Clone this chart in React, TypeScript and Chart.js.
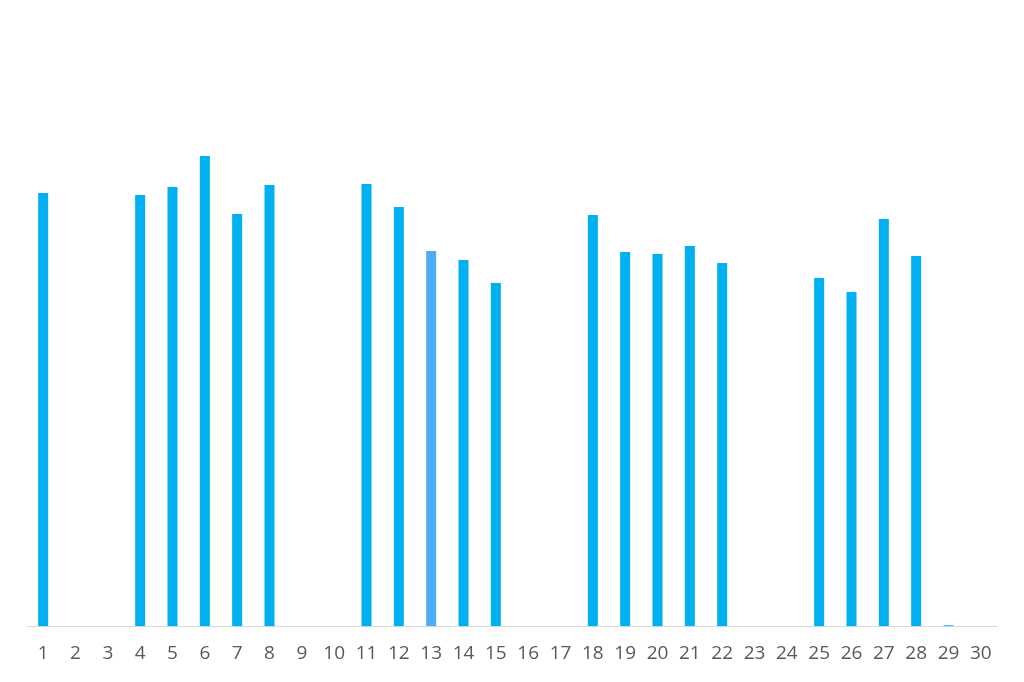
import React, { useEffect, useRef } from "react";
import { Chart, registerables } from "chart.js";

Chart.register(...registerables);

const categories: string[] = Array.from({ length: 30 }, (_, i) => String(i + 1));
const values: number[] = [
  433, 0, 0, 431, 439, 470, 412, 441, 0, 0,
  442, 419, 375, 366, 343, 0, 0, 411, 374, 372,
  380, 363, 0, 0, 348, 334, 407, 370, 1, 0,
];
const mainColor = "#00B0F0";
const highlightColor = "#4FADF7";
const highlightIndex = 12;

export default function App() {
  const ref = useRef<HTMLCanvasElement>(null);
  useEffect(() => {
    if (!ref.current) return;
    const colors = values.map((_, i) => (i === highlightIndex ? highlightColor : mainColor));
    const chart = new Chart(ref.current, {
      type: "bar",
      data: {
        labels: categories,
        datasets: [
          {
            data: values,
            backgroundColor: colors,
            barPercentage: 0.62,
            categoryPercentage: 0.5,
          },
        ],
      },
      options: {
        responsive: false,
        animation: false,
        layout: { padding: { left: 27, right: 27, top: 29, bottom: 1 } },
        plugins: { legend: { display: false }, tooltip: { enabled: false } },
        scales: {
          x: {
            grid: { display: false, drawTicks: false },
            border: { display: true, color: "#D9D9D9", width: 1 },
            ticks: {
              color: "#595959",
              font: { family: "'Open Sans', sans-serif", size: 19 },
              padding: 16,
              maxRotation: 0,
              autoSkip: false,
            },
          },
          y: { display: false, min: 0, max: 597 },
        },
      },
    });
    return () => chart.destroy();
  }, []);
  return (
    <div style={{ position: "absolute", left: 0, top: 0, width: 1024, height: 682, background: "#fff" }}>
      <canvas ref={ref} width={1024} height={682} />
    </div>
  );
}
